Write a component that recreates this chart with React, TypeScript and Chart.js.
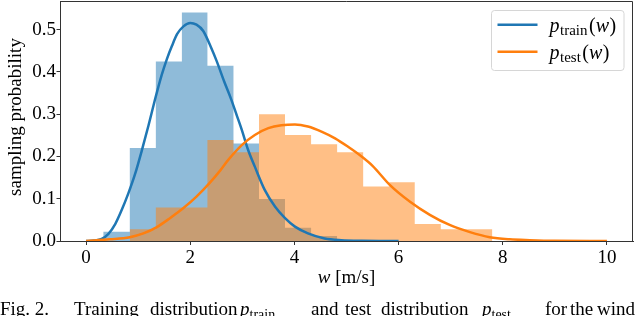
import React, { useEffect, useRef } from "react";
import { Chart, registerables } from "chart.js";

Chart.register(...registerables);

// ---- data ----
const xTickValues = [0, 2, 4, 6, 8, 10];
const yTickValues = [0, 0.1, 0.2, 0.3, 0.4, 0.5];

const trainBinEdges = [0.33, 0.84, 1.34, 1.84, 2.33, 2.83, 3.32, 3.82, 4.32, 4.82];
const trainBinHeights = [0.022, 0.22, 0.425, 0.541, 0.415, 0.231, 0.0995, 0.0316, 0.012];

const testBinEdges = [0.84, 1.34, 1.84, 2.33, 2.83, 3.32, 3.82, 4.32, 4.82, 5.32, 5.82, 6.31, 6.81, 7.3, 7.8];
const testBinHeights = [0.028, 0.079, 0.079, 0.239, 0.21, 0.3, 0.251, 0.229, 0.21, 0.129, 0.139, 0.04, 0.028, 0.028];

const trainCurveX = [0, 0.15, 0.3, 0.43, 0.56, 0.68, 0.81, 0.94, 1.07, 1.2, 1.32, 1.45, 1.55, 1.65, 1.75, 1.87, 2.0, 2.12, 2.25, 2.4, 2.51, 2.65, 2.79, 2.9, 2.99, 3.11, 3.24, 3.43, 3.63, 3.82, 4.01, 4.26, 4.58, 4.9, 5.3, 6.0];
const trainCurveY = [0, 0.001, 0.005, 0.017, 0.04, 0.072, 0.112, 0.158, 0.214, 0.274, 0.333, 0.392, 0.43, 0.462, 0.49, 0.508, 0.516, 0.512, 0.497, 0.458, 0.425, 0.378, 0.334, 0.295, 0.263, 0.216, 0.176, 0.121, 0.081, 0.054, 0.034, 0.018, 0.006, 0.002, 0.0005, 0];

const testCurveX = [0, 0.46, 0.84, 1.1, 1.36, 1.61, 1.87, 2.12, 2.37, 2.57, 2.73, 2.99, 3.24, 3.5, 3.75, 4.01, 4.26, 4.52, 4.78, 5.03, 5.29, 5.5, 5.83, 6.22, 6.6, 6.98, 7.37, 7.75, 8.13, 8.52, 9.0, 10.0];
const testCurveY = [0, 0.004, 0.009, 0.018, 0.033, 0.054, 0.078, 0.105, 0.137, 0.166, 0.192, 0.227, 0.251, 0.267, 0.274, 0.276, 0.271, 0.259, 0.243, 0.223, 0.2, 0.178, 0.133, 0.093, 0.062, 0.038, 0.021, 0.009, 0.004, 0.002, 0.0005, 0];

const xRange = [-0.5, 10.5];
const yRange = [0, 0.568];

const legendLabels = [
  { main: "p", sub: "train", arg: "w" },
  { main: "p", sub: "test", arg: "w" },
];
const xTitleVar = "w";
const xTitleUnit = " [m/s]";
const yTitle = "sampling probability";
const captionWords = [
  { t: "Fig. 2.", x: 0 },
  { t: "Training", x: 74 },
  { t: "distribution", x: 150 },
  { t: "p", x: 240, it: true },
  { t: "train", x: 249.5, sub: true },
  { t: "and", x: 311 },
  { t: "test", x: 345 },
  { t: "distribution", x: 381 },
  { t: "p", x: 482, it: true },
  { t: "test", x: 491.5, sub: true },
  { t: "for", x: 545 },
  { t: "the", x: 570 },
  { t: "wind", x: 597 },
];

const BLUE = "#1f77b4";
const ORANGE = "#ff7f0e";
const SERIF = "'Liberation Serif', 'DejaVu Serif', serif";

function histPoints(edges: number[], heights: number[]) {
  return edges.map((e, i) => ({ x: e, y: i < heights.length ? heights[i] : 0 }));
}
function curvePoints(xs: number[], ys: number[]) {
  return xs.map((x, i) => ({ x, y: ys[i] }));
}

const decorPlugin = {
  id: "decor",
  afterDraw(chart: any) {
    const { ctx, chartArea } = chart;
    const { left, right, top, bottom } = chartArea;
    ctx.save();
    // frame (top + right spines)
    ctx.strokeStyle = "#333";
    ctx.lineWidth = 1;
    ctx.beginPath();
    ctx.moveTo(left, top + 0.5);
    ctx.lineTo(right - 0.5, top + 0.5);
    ctx.lineTo(right - 0.5, bottom);
    ctx.stroke();

    // legend
    const bx = 491.5, by = 10.5, bw = 132.5, bh = 60;
    ctx.fillStyle = "rgba(255,255,255,0.8)";
    ctx.strokeStyle = "#d6d6d6";
    ctx.lineWidth = 1;
    ctx.beginPath();
    if ((ctx as any).roundRect) (ctx as any).roundRect(bx, by, bw, bh, 3);
    else ctx.rect(bx, by, bw, bh);
    ctx.fill();
    ctx.stroke();
    const rows = [
      { y: 24.7, base: 31.5, color: BLUE },
      { y: 51.7, base: 58.5, color: ORANGE },
    ];
    rows.forEach((r, i) => {
      ctx.strokeStyle = r.color;
      ctx.lineWidth = 2.5;
      ctx.beginPath();
      ctx.moveTo(497.5, r.y);
      ctx.lineTo(537.5, r.y);
      ctx.stroke();
      const lab = legendLabels[i];
      ctx.fillStyle = "#000";
      ctx.textBaseline = "alphabetic";
      ctx.textAlign = "left";
      let x = 549.5;
      ctx.font = `italic 20px ${SERIF}`;
      ctx.fillText(lab.main, x, r.base);
      x += ctx.measureText(lab.main).width + 0.5;
      ctx.font = `15px ${SERIF}`;
      ctx.fillText(lab.sub, x, r.base + 3);
      x += ctx.measureText(lab.sub).width + 1.5;
      ctx.font = `20px ${SERIF}`;
      ctx.fillText("(", x, r.base);
      x += ctx.measureText("(").width;
      ctx.font = `italic 20px ${SERIF}`;
      ctx.fillText(lab.arg, x, r.base);
      x += ctx.measureText(lab.arg).width + 0.5;
      ctx.font = `20px ${SERIF}`;
      ctx.fillText(")", x, r.base);
    });

    // x axis title
    ctx.fillStyle = "#000";
    ctx.font = `italic 19px ${SERIF}`;
    const w1 = ctx.measureText(xTitleVar).width;
    ctx.font = `19px ${SERIF}`;
    const w2 = ctx.measureText(xTitleUnit).width;
    const cx = (left + right) / 2;
    const sx = cx - (w1 + w2) / 2;
    ctx.textBaseline = "alphabetic";
    ctx.textAlign = "left";
    ctx.font = `italic 19px ${SERIF}`;
    ctx.fillText(xTitleVar, sx, 283);
    ctx.font = `19px ${SERIF}`;
    ctx.fillText(xTitleUnit, sx + w1, 283);

    // y axis title
    ctx.save();
    ctx.translate(21, 117);
    ctx.rotate(-Math.PI / 2);
    ctx.font = `19px ${SERIF}`;
    ctx.textAlign = "center";
    ctx.textBaseline = "alphabetic";
    ctx.fillText(yTitle, 0, 0);
    ctx.restore();

    // caption (cut by the page bottom)
    captionWords.forEach((w: any) => {
      ctx.font = `${w.it ? "italic " : ""}${w.sub ? 14 : 19}px ${SERIF}`;
      ctx.fillText(w.t, w.x, w.sub ? 319 : 314.5);
    });
    ctx.restore();
  },
};

export default function App() {
  const ref = useRef<HTMLCanvasElement | null>(null);
  useEffect(() => {
    if (!ref.current) return;
    const chart = new Chart(ref.current, {
      type: "line",
      data: {
        datasets: [
          {
            label: "train hist",
            data: histPoints(trainBinEdges, trainBinHeights),
            stepped: true,
            fill: "origin",
            backgroundColor: "rgba(31,119,180,0.5)",
            borderColor: "rgba(0,0,0,0)",
            borderWidth: 1,
            pointRadius: 0,
            order: 4,
          },
          {
            label: "test hist",
            data: histPoints(testBinEdges, testBinHeights),
            stepped: true,
            fill: "origin",
            backgroundColor: "rgba(255,127,14,0.5)",
            borderColor: "rgba(0,0,0,0)",
            borderWidth: 1,
            pointRadius: 0,
            order: 3,
          },
          {
            label: "p_train(w)",
            data: curvePoints(trainCurveX, trainCurveY),
            borderColor: BLUE,
            borderWidth: 2.5,
            pointRadius: 0,
            fill: false,
            cubicInterpolationMode: "monotone",
            order: 2,
          },
          {
            label: "p_test(w)",
            data: curvePoints(testCurveX, testCurveY),
            borderColor: ORANGE,
            borderWidth: 2.5,
            pointRadius: 0,
            fill: false,
            cubicInterpolationMode: "monotone",
            order: 1,
          },
        ],
      },
      options: {
        responsive: false,
        animation: false,
        events: [],
        layout: { padding: { top: 1, right: 7, left: 0, bottom: 0 } },
        plugins: { legend: { display: false }, tooltip: { enabled: false } },
        scales: {
          x: {
            type: "linear",
            min: xRange[0],
            max: xRange[1],
            offset: false,
            afterFit: (s: any) => { s.height = 75; s.paddingLeft = 0; s.paddingRight = 0; },
            afterBuildTicks: (s: any) => { s.ticks = xTickValues.map((v) => ({ value: v })); },
            ticks: {
              color: "#000",
              font: { family: SERIF, size: 19 },
              padding: 2,
              maxRotation: 0,
              autoSkip: false,
              callback: (v: any) => String(v),
            },
            grid: { drawOnChartArea: false, drawTicks: true, tickLength: 4, color: "#333", tickWidth: 1 },
            border: { display: true, color: "#333", width: 1 },
          },
          y: {
            type: "linear",
            min: yRange[0],
            max: yRange[1],
            afterFit: (s: any) => { s.width = 60; s.paddingTop = 0; s.paddingBottom = 0; },
            afterBuildTicks: (s: any) => { s.ticks = yTickValues.map((v) => ({ value: v })); },
            ticks: {
              color: "#000",
              font: { family: SERIF, size: 19 },
              padding: 0.5,
              autoSkip: false,
              callback: (v: any) => Number(v).toFixed(1),
            },
            grid: { drawOnChartArea: false, drawTicks: true, tickLength: 3.5, color: "#333", tickWidth: 1 },
            border: { display: true, color: "#333", width: 1 },
          },
        },
      },
      plugins: [decorPlugin],
    });
    return () => chart.destroy();
  }, []);
  return (
    <div style={{ position: "fixed", left: 0, top: 0, width: 640, height: 316, overflow: "hidden", background: "#fff" }}>
      <canvas ref={ref} width={640} height={316} style={{ display: "block", width: 640, height: 316 }} />
    </div>
  );
}
